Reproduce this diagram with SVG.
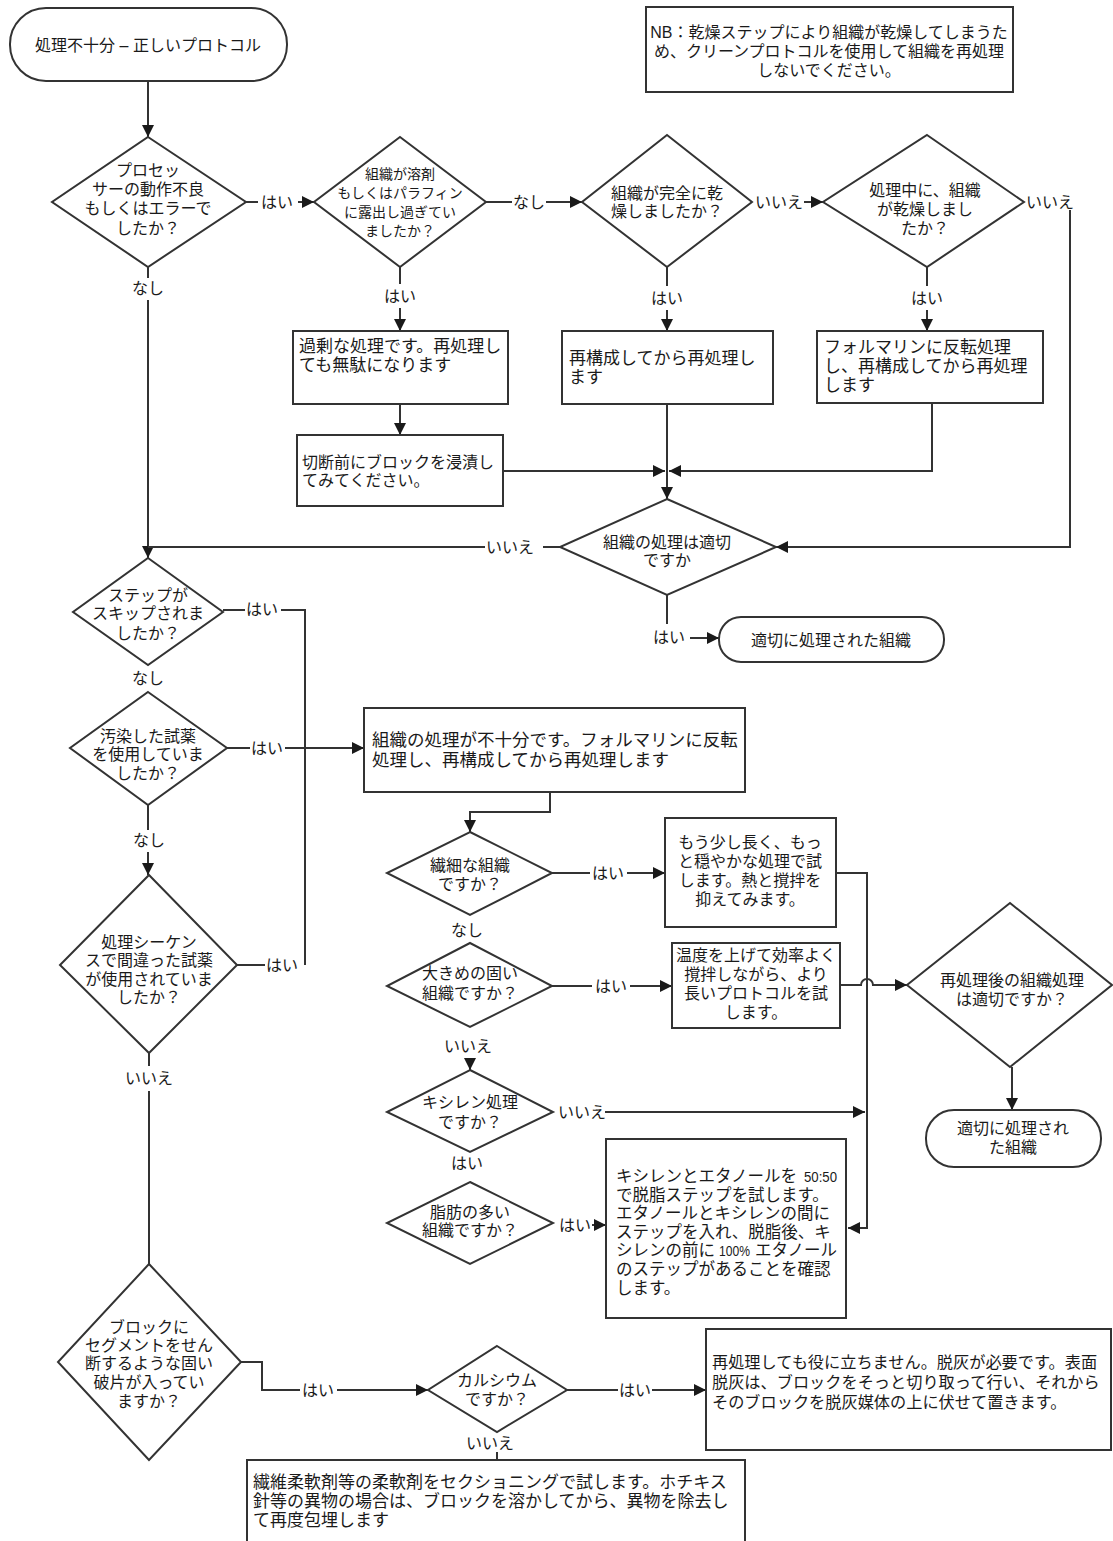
<svg xmlns="http://www.w3.org/2000/svg" width="1113" height="1541" viewBox="0 0 1113 1541">
<style>
.n{fill:#fff;stroke:#333;stroke-width:2}
.t{font-family:"Liberation Sans","Noto Sans CJK JP",sans-serif;font-size:16px;fill:#1a1a1a}
.c{text-anchor:middle}
.e{fill:none;stroke:#333;stroke-width:2}
.a{marker-end:url(#ah)}
</style>
<defs>
<marker id="ah" markerUnits="userSpaceOnUse" markerWidth="14" markerHeight="14" refX="12" refY="6" orient="auto"><path d="M0,0 L12,6 L0,12 z" fill="#1a1a1a"/></marker>
</defs>
<rect width="1113" height="1541" fill="#fff"/>

<g id="connectors">
<path class="e a" d="M148,81 V137"/>
<path class="e" d="M246,202 H258"/>
<path class="e a" d="M298,202 H314"/>
<path class="e" d="M486,202 H512"/>
<path class="e a" d="M546,202 H582"/>
<path class="e a" d="M804,202 H823"/>
<path class="e a" d="M1070,210 V547 H776"/>
<path class="e" d="M148,267 V278"/>
<path class="e a" d="M148,300 V558"/>
<path class="e" d="M148,547 H485 M543,547 H560"/>
<path class="e" d="M400,267 V284"/>
<path class="e a" d="M400,308 V331"/>
<path class="e" d="M667,267 V286"/>
<path class="e a" d="M667,310 V331"/>
<path class="e" d="M927,267 V286"/>
<path class="e a" d="M927,310 V331"/>
<path class="e a" d="M400,404 V435"/>
<path class="e a" d="M503,471 H665"/>
<path class="e a" d="M667,404 V499"/>
<path class="e a" d="M932,403 V471 H669"/>
<path class="e" d="M667,595 V624"/>
<path class="e a" d="M690,638 H719"/>
<path class="e" d="M223,610 H245 M281,610 H305 V965"/>
<path class="e" d="M227,748 H250"/>
<path class="e a" d="M285,748 H364"/>
<path class="e" d="M148,805 V830"/>
<path class="e a" d="M148,852 V875"/>
<path class="e a" d="M550,792 V812 H470 V832"/>
<path class="e" d="M237,965 H265"/>
<path class="e" d="M149,1053 V1066 M149,1091 V1264"/>
<path class="e" d="M241,1362 H262 V1390 H300"/>
<path class="e a" d="M337,1390 H428"/>
<path class="e" d="M567,1390 H618"/>
<path class="e a" d="M652,1390 H706"/>
<path class="e" d="M497,1452 V1460"/>
<path class="e" d="M552,873 H590"/>
<path class="e a" d="M627,873 H665"/>
<path class="e a" d="M836,873 H867 V1228 H848"/>
<path class="e" d="M552,986 H592"/>
<path class="e a" d="M630,986 H672"/>
<path class="e a" d="M840,985 H861 A6,6 0 0 1 873,985 H907"/>
<path class="e a" d="M470,1058 V1070"/>
<path class="e a" d="M605,1112 H865"/>
<path class="e a" d="M592,1225 H606"/>
<path class="e a" d="M1012,1067 V1110"/>
<g class="t c">
<text x="277" y="208">はい</text>
<text x="529" y="208">なし</text>
<text x="779" y="208">いいえ</text>
<text x="1050" y="208">いいえ</text>
<text x="148" y="294">なし</text>
<text x="400" y="302">はい</text>
<text x="667" y="304">はい</text>
<text x="927" y="304">はい</text>
<text x="510" y="553">いいえ</text>
<text x="669" y="643">はい</text>
<text x="262" y="615">はい</text>
<text x="148" y="684">なし</text>
<text x="267" y="754">はい</text>
<text x="149" y="846">なし</text>
<text x="282" y="971">はい</text>
<text x="149" y="1084">いいえ</text>
<text x="318" y="1396">はい</text>
<text x="635" y="1396">はい</text>
<text x="490" y="1449">いいえ</text>
<text x="608" y="879">はい</text>
<text x="467" y="936">なし</text>
<text x="611" y="992">はい</text>
<text x="468" y="1052">いいえ</text>
<text x="582" y="1118">いいえ</text>
<text x="467" y="1169">はい</text>
<text x="575" y="1231">はい</text>
</g>
</g>

<g id="start">
<rect class="n" x="10" y="8" width="277" height="73" rx="36"/>
<text class="t c" x="148" y="51">処理不十分 – 正しいプロトコル</text>
</g>
<g id="note">
<rect class="n" x="646" y="7" width="367" height="85"/>
<text class="t c"><tspan x="829" y="38">NB：乾燥ステップにより組織が乾燥してしまうた</tspan><tspan x="829" y="57">め、クリーンプロトコルを使用して組織を再処理</tspan><tspan x="829" y="76">しないでください。</tspan></text>
</g>
<g id="d1">
<polygon class="n" points="148,137 246,202 148,267 52,202"/>
<text class="t c"><tspan x="148" y="176">プロセッ</tspan><tspan x="148" y="195">サーの動作不良</tspan><tspan x="148" y="214">もしくはエラーで</tspan><tspan x="148" y="234">したか？</tspan></text>
</g>
<g id="d2">
<polygon class="n" points="400,137 486,202 400,267 314,202"/>
<text class="t c" style="font-size:14px"><tspan x="400" y="179">組織が溶剤</tspan><tspan x="400" y="198">もしくはパラフィン</tspan><tspan x="400" y="217">に露出し過ぎてい</tspan><tspan x="400" y="236">ましたか？</tspan></text>
</g>
<g id="d3">
<polygon class="n" points="667,135 752,202 667,267 582,202"/>
<text class="t c"><tspan x="667" y="199">組織が完全に乾</tspan><tspan x="667" y="217">燥しましたか？</tspan></text>
</g>
<g id="d4">
<polygon class="n" points="927,135 1024,202 927,267 823,202"/>
<text class="t c"><tspan x="925" y="196">処理中に、組織</tspan><tspan x="925" y="215">が乾燥しまし</tspan><tspan x="925" y="234">たか？</tspan></text>
</g>
<g id="b-over">
<rect class="n" x="293" y="331" width="215" height="73"/>
<text class="t" style="font-size:17px"><tspan x="299" y="352">過剰な処理です。再処理し</tspan><tspan x="299" y="371">ても無駄になります</tspan></text>
</g>
<g id="b-soak">
<rect class="n" x="297" y="435" width="206" height="71"/>
<text class="t"><tspan x="302" y="468">切断前にブロックを浸漬し</tspan><tspan x="302" y="486">てみてください。</tspan></text>
</g>
<g id="b-reconst">
<rect class="n" x="562" y="331" width="211" height="73"/>
<text class="t" style="font-size:17px"><tspan x="569" y="364">再構成してから再処理し</tspan><tspan x="569" y="383">ます</tspan></text>
</g>
<g id="b-formalin">
<rect class="n" x="817" y="331" width="226" height="72"/>
<text class="t" style="font-size:17px"><tspan x="824" y="353">フォルマリンに反転処理</tspan><tspan x="824" y="372">し、再構成してから再処理</tspan><tspan x="824" y="391">します</tspan></text>
</g>
<g id="d-ok1">
<polygon class="n" points="667,499 776,547 667,595 560,547"/>
<text class="t c"><tspan x="667" y="548">組織の処理は適切</tspan><tspan x="667" y="566">ですか</tspan></text>
</g>
<g id="end1">
<rect class="n" x="719" y="617" width="225" height="45" rx="22"/>
<text class="t c" x="831" y="646">適切に処理された組織</text>
</g>
<g id="d-skip">
<polygon class="n" points="148,558 223,612 148,665 73,612"/>
<text class="t c"><tspan x="148" y="601">ステップが</tspan><tspan x="148" y="619">スキップされま</tspan><tspan x="148" y="639">したか？</tspan></text>
</g>
<g id="d-contam">
<polygon class="n" points="148,692 227,748 148,805 70,748"/>
<text class="t c"><tspan x="148" y="742">汚染した試薬</tspan><tspan x="148" y="760">を使用していま</tspan><tspan x="148" y="779">したか？</tspan></text>
</g>
<g id="b-insuff">
<rect class="n" x="364" y="708" width="381" height="84"/>
<text class="t" style="font-size:17.5px"><tspan x="372" y="746">組織の処理が不十分です。フォルマリンに反転</tspan><tspan x="372" y="766">処理し、再構成してから再処理します</tspan></text>
</g>
<g id="d-seq">
<polygon class="n" points="149,875 237,965 149,1053 60,965"/>
<text class="t c"><tspan x="149" y="948">処理シーケン</tspan><tspan x="149" y="966">スで間違った試薬</tspan><tspan x="149" y="985">が使用されていま</tspan><tspan x="149" y="1003">したか？</tspan></text>
</g>
<g id="d-block">
<polygon class="n" points="149,1264 241,1362 149,1460 58,1362"/>
<text class="t c"><tspan x="149" y="1333">ブロックに</tspan><tspan x="149" y="1351">セグメントをせん</tspan><tspan x="149" y="1369">断するような固い</tspan><tspan x="149" y="1388">破片が入ってい</tspan><tspan x="149" y="1407">ますか？</tspan></text>
</g>
<g id="d-calc">
<polygon class="n" points="497,1346 567,1390 497,1432 428,1390"/>
<text class="t c"><tspan x="497" y="1386">カルシウム</tspan><tspan x="497" y="1405">ですか？</tspan></text>
</g>
<g id="b-decal">
<rect class="n" x="706" y="1329" width="405" height="121"/>
<text class="t" style="font-size:16.2px"><tspan x="712" y="1368">再処理しても役に立ちません。脱灰が必要です。表面</tspan><tspan x="712" y="1388">脱灰は、ブロックをそっと切り取って行い、それから</tspan><tspan x="712" y="1408">そのブロックを脱灰媒体の上に伏せて置きます。</tspan></text>
</g>
<g id="b-soften">
<rect class="n" x="247" y="1460" width="498" height="95"/>
<text class="t" style="font-size:17px"><tspan x="253" y="1488">繊維柔軟剤等の柔軟剤をセクショニングで試します。ホチキス</tspan><tspan x="253" y="1507">針等の異物の場合は、ブロックを溶かしてから、異物を除去し</tspan><tspan x="253" y="1526">て再度包埋します</tspan></text>
</g>
<g id="d-delicate">
<polygon class="n" points="470,832 552,873 470,915 387,873"/>
<text class="t c"><tspan x="470" y="871">繊細な組織</tspan><tspan x="470" y="890">ですか？</tspan></text>
</g>
<g id="b-gentle">
<rect class="n" x="665" y="818" width="171" height="109"/>
<text class="t c"><tspan x="750" y="848">もう少し長く、もっ</tspan><tspan x="750" y="867">と穏やかな処理で試</tspan><tspan x="750" y="886">します。熱と撹拌を</tspan><tspan x="750" y="905">抑えてみます。</tspan></text>
</g>
<g id="d-large">
<polygon class="n" points="470,943 552,986 470,1027 387,986"/>
<text class="t c"><tspan x="470" y="979">大きめの固い</tspan><tspan x="470" y="999">組織ですか？</tspan></text>
</g>
<g id="b-longer">
<rect class="n" x="672" y="943" width="168" height="85"/>
<text class="t c"><tspan x="756" y="961">温度を上げて効率よく</tspan><tspan x="756" y="980">撹拌しながら、より</tspan><tspan x="756" y="999">長いプロトコルを試</tspan><tspan x="756" y="1018">します。</tspan></text>
</g>
<g id="d-xylene">
<polygon class="n" points="470,1070 553,1112 470,1152 387,1112"/>
<text class="t c"><tspan x="470" y="1108">キシレン処理</tspan><tspan x="470" y="1128">ですか？</tspan></text>
</g>
<g id="d-fat">
<polygon class="n" points="470,1182 553,1223 470,1264 387,1223"/>
<text class="t c"><tspan x="470" y="1218">脂肪の多い</tspan><tspan x="470" y="1236">組織ですか？</tspan></text>
</g>
<g id="b-defat">
<rect class="n" x="606" y="1139" width="240" height="179"/>
<text class="t" style="font-size:16.5px"><tspan x="616" y="1182">キシレンとエタノールを</tspan><tspan x="616" y="1200.6">で脱脂ステップを試します。</tspan><tspan x="616" y="1219.2">エタノールとキシレンの間に</tspan><tspan x="616" y="1237.8">ステップを入れ、脱脂後、キ</tspan><tspan x="616" y="1256.4">シレンの前に</tspan><tspan x="616" y="1275">のステップがあることを確認</tspan><tspan x="616" y="1293.6">します。</tspan></text>
<text class="t" x="804" y="1182" style="font-size:15px" textLength="33" lengthAdjust="spacingAndGlyphs">50:50</text>
<text class="t" x="719" y="1256.4" style="font-size:15px" textLength="31" lengthAdjust="spacingAndGlyphs">100%</text>
<text class="t" x="755" y="1256.4" style="font-size:16.5px">エタノール</text>
</g>
<g id="d-ok2">
<polygon class="n" points="1010,903 1112,985 1010,1067 907,985"/>
<text class="t c"><tspan x="1012" y="986">再処理後の組織処理</tspan><tspan x="1012" y="1005">は適切ですか？</tspan></text>
</g>
<g id="end2">
<rect class="n" x="926" y="1110" width="175" height="57" rx="28"/>
<text class="t c"><tspan x="1013" y="1134">適切に処理され</tspan><tspan x="1013" y="1153">た組織</tspan></text>
</g>
</svg>
